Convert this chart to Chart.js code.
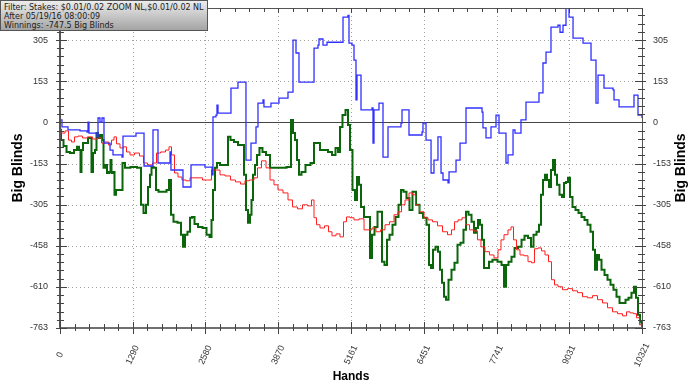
<!DOCTYPE html>
<html>
<head>
<meta charset="utf-8">
<title>Winnings graph</title>
<script src="https://cdn.jsdelivr.net/npm/chart.js@4.4.0/dist/chart.umd.min.js"></script>
<style>
    html, body { margin: 0; padding: 0; background: #fff; }
    #wrap { position: relative; width: 700px; height: 390px; }
    #filterBox {
        position: absolute; left: 0; top: 0;
        width: 208px; height: 31px; box-sizing: border-box;
        border: 1px solid #555;
        background: linear-gradient(#ececec, #a4a4a4);
        font: 8px "DejaVu Sans", sans-serif; color: #1c1c1c;
        line-height: 9px; padding: 2px 0 0 3px;
        white-space: nowrap; overflow: hidden;
    }
</style>
</head>
<body>
<div id="wrap">
    <canvas id="winningsChart" width="700" height="390"></canvas>
    <div id="filterBox">Filter: Stakes: $0.01/0.02 ZOOM NL,$0.01/0.02 NL<br>After 05/19/16 08:00:09<br>Winnings: -747.5 Big Blinds</div>
</div>
<script>
// Axis ticks
const xTicks = [0, 1290, 2580, 3870, 5161, 6451, 7741, 9031, 10321];
const yTicks = [-763, -610, -458, -305, -153, 0, 153, 305];
const yMax = 424;

// Showdown winnings (blue)
const showdownHands = [0,35,142,355,479,497,514,656,674,709,745,780,887,940,1100,1117,1330,1348,1472,1490,1632,1649,1720,1738,1933,1951,1968,2164,2181,2305,2323,2571,2696,2713,2766,2784,2802,3015,3032,3139,3156,3281,3298,3369,3387,3458,3476,3511,3600,3617,3724,3741,3866,3883,4026,4043,4114,4132,4167,4185,4221,4238,4487,4505,4575,4593,4646,4664,4735,5001,5019,5107,5125,5178,5214,5249,5267,5320,5338,5533,5551,5568,5639,5657,5710,5728,5799,5817,6030,6047,6065,6171,6189,6420,6437,6473,6491,6562,6580,6615,6632,6686,6703,6739,6757,6792,6881,6899,7005,7023,7094,7182,7200,7484,7501,7537,7555,7626,7643,7714,7732,7767,7785,7892,7909,7945,8016,8034,8069,8158,8175,8246,8264,8477,8494,8548,8565,8601,8619,8690,8707,8831,8867,8902,8920,8956,8973,9009,9027,9080,9098,9257,9275,9399,9417,9488,9505,9523,9541,9630,9647,9807,9825,9896,9914,10161,10179,10232,10250,10286,10321];
const showdownBB = [9,-17,-28,-32,-36,1,-40,-54,16,1,16,-77,-103,-121,-129,-51,-51,-40,-40,-162,-162,-28,-28,-151,-151,-110,-177,-177,-240,-240,-158,-166,-195,20,27,64,34,34,127,127,149,149,-140,-140,-77,-77,-17,71,83,57,57,71,71,90,90,112,112,305,305,257,257,149,149,275,286,309,309,286,297,297,390,397,294,286,231,83,175,175,46,53,-77,46,46,71,71,-129,-129,-17,-17,-3,46,46,-47,-36,-3,-3,-66,-66,-188,-188,-140,-140,-54,-54,-188,-214,-225,-184,-184,-140,-77,-77,53,38,-21,-21,-58,-58,-17,-17,27,27,-40,-40,-151,-121,-121,-28,-40,-40,9,9,75,75,109,109,220,220,260,260,353,360,334,334,360,360,427,427,390,390,312,312,294,294,231,231,71,71,175,175,127,120,83,83,57,57,101,101,27,27,16];

// Non-showdown winnings (red)
const nonShowdownHands = [0,53,124,177,230,284,355,443,532,621,709,763,833,887,940,975,1028,1100,1153,1206,1277,1365,1454,1507,1596,1685,1738,1827,1915,1951,2004,2057,2128,2199,2270,2341,2412,2483,2571,2660,2713,2802,2873,2979,3068,3156,3245,3316,3405,3476,3529,3618,3689,3760,3830,3901,4008,4079,4167,4256,4345,4434,4487,4522,4575,4646,4735,4788,4859,4930,5001,5054,5107,5178,5249,5356,5427,5498,5568,5639,5728,5799,5888,5959,6030,6083,6154,6224,6278,6331,6420,6491,6562,6650,6739,6828,6916,6969,7023,7094,7165,7218,7306,7377,7430,7501,7572,7661,7732,7803,7838,7909,7980,8016,8069,8122,8193,8264,8335,8388,8441,8512,8565,8636,8690,8743,8796,8867,8956,9044,9133,9222,9310,9399,9488,9576,9665,9754,9842,9931,10020,10073,10144,10197,10250,10303,10321];
const nonShowdownBB = [-28,-40,-32,-66,-73,-54,-51,-58,-54,-62,-58,-77,-73,-84,-66,-54,-80,-95,-91,-110,-121,-114,-125,-151,-158,-151,-114,-110,-103,-91,-121,-188,-203,-214,-217,-206,-206,-206,-214,-214,-177,-177,-195,-199,-214,-221,-229,-217,-214,-206,-169,-143,-169,-214,-232,-251,-262,-288,-314,-321,-306,-310,-288,-354,-380,-392,-384,-406,-421,-414,-425,-369,-351,-354,-362,-358,-399,-399,-392,-406,-399,-380,-369,-343,-332,-306,-288,-262,-269,-306,-332,-354,-362,-369,-384,-406,-417,-399,-369,-362,-354,-380,-399,-403,-436,-462,-480,-492,-503,-473,-436,-417,-399,-388,-436,-473,-492,-495,-517,-521,-469,-466,-477,-492,-517,-584,-603,-610,-621,-617,-625,-632,-647,-651,-643,-658,-670,-688,-703,-710,-718,-703,-707,-710,-725,-751,-763];

// Total winnings (green)
const totalHands = [0,35,89,142,213,284,319,355,372,390,426,479,514,550,567,603,638,656,692,727,763,780,816,851,887,904,922,958,975,1011,1064,1100,1117,1188,1312,1419,1454,1507,1543,1578,1614,1632,1685,1720,1773,1862,1915,1951,1986,2039,2128,2164,2199,2234,2287,2323,2359,2412,2483,2571,2625,2678,2696,2731,2766,2802,2873,2962,2997,3050,3121,3192,3245,3281,3316,3352,3387,3405,3440,3476,3511,3564,3618,3689,3760,3848,3955,4079,4114,4150,4185,4221,4256,4309,4398,4487,4522,4575,4646,4717,4788,4859,4912,4948,4983,5036,5090,5125,5160,5214,5249,5285,5320,5356,5427,5480,5515,5551,5604,5657,5692,5728,5781,5817,5870,5923,5976,6030,6065,6118,6171,6224,6278,6349,6402,6473,6526,6562,6597,6632,6686,6721,6757,6792,6828,6863,6916,6969,7023,7076,7129,7182,7218,7271,7324,7360,7395,7430,7466,7501,7537,7590,7626,7714,7803,7856,7892,7927,7980,8034,8087,8158,8211,8264,8335,8370,8424,8477,8512,8548,8583,8619,8654,8690,8725,8760,8796,8831,8885,8920,8956,8991,9027,9062,9115,9168,9222,9275,9328,9381,9434,9470,9505,9541,9576,9630,9683,9736,9789,9842,9896,9949,10002,10055,10108,10161,10197,10232,10268,10303,10321];
const totalBB = [-28,-66,-88,-110,-114,-103,-91,-103,-184,-103,-77,-77,-58,-58,-184,-114,-103,-40,-58,-47,-66,-169,-158,-188,-184,-140,-188,-184,-269,-251,-251,-251,-151,-169,-166,-169,-306,-336,-306,-240,-195,-166,-169,-251,-258,-258,-251,-214,-343,-369,-373,-417,-462,-417,-406,-354,-351,-377,-388,-392,-417,-425,-362,-251,-169,-151,-158,-158,-54,-66,-73,-84,-84,-195,-325,-373,-343,-288,-195,-158,-121,-95,-110,-121,-169,-169,-169,-166,9,-40,-66,-140,-195,-184,-158,-151,-77,-77,-103,-103,-110,-121,-95,-110,-17,27,46,-10,-103,-251,-288,-203,-232,-314,-351,-351,-503,-417,-388,-332,-332,-517,-529,-436,-417,-380,-351,-306,-251,-258,-281,-325,-258,-306,-336,-354,-380,-529,-540,-473,-462,-480,-547,-595,-647,-658,-584,-547,-521,-454,-447,-399,-332,-343,-369,-410,-392,-362,-380,-436,-540,-540,-517,-510,-517,-529,-610,-529,-517,-499,-466,-462,-436,-421,-429,-462,-417,-406,-380,-269,-214,-195,-214,-240,-177,-140,-195,-232,-269,-277,-225,-221,-206,-277,-314,-325,-336,-351,-362,-380,-406,-473,-547,-492,-510,-547,-566,-584,-603,-621,-647,-670,-670,-658,-651,-632,-610,-651,-714,-740,-747.5];

// Pair up hands and values for a linear x axis
function toPoints(hands, values) {
    return hands.map((h, i) => ({ x: h, y: values[i] }));
}

// Four minor ticks between each pair of major ticks
function minorTicks(ticks, limit) {
    const out = [];
    for (let i = 0; i < ticks.length - 1; i++) {
        const step = (ticks[i + 1] - ticks[i]) / 5;
        for (let k = 1; k < 5; k++) out.push(ticks[i] + step * k);
    }
    if (limit !== undefined) {
        const step = (ticks[ticks.length - 1] - ticks[ticks.length - 2]) / 5;
        for (let v = ticks[ticks.length - 1] + step; v < limit; v += step) out.push(v);
    }
    return out;
}

function line(ctx, x1, y1, x2, y2) {
    ctx.beginPath();
    ctx.moveTo(x1, y1);
    ctx.lineTo(x2, y2);
    ctx.stroke();
}

// Grid, axes, ticks and titles drawn around the chart area
const framePlugin = {
    id: 'frame',
    beforeDatasetsDraw(chart) {
        const { ctx, chartArea: a, scales: { x, y } } = chart;
        ctx.save();
        ctx.strokeStyle = '#a0a0a0';
        ctx.lineWidth = 1;
        ctx.setLineDash([1, 3]);
        xTicks.slice(1, -1).forEach(v => {
            const px = Math.round(x.getPixelForValue(v)) + 0.5;
            line(ctx, px, a.top, px, a.bottom);
        });
        yTicks.forEach(v => {
            if (v === 0 || v === yTicks[0]) return;
            const py = Math.round(y.getPixelForValue(v)) + 0.5;
            line(ctx, a.left, py, a.right, py);
        });
        ctx.setLineDash([]);
        ctx.strokeStyle = '#444';
        const zy = Math.round(y.getPixelForValue(0)) + 0.5;
        line(ctx, a.left, zy, a.right, zy);
        ctx.restore();
    },
    afterDatasetsDraw(chart) {
        const { ctx, chartArea: a, scales: { x, y } } = chart;
        ctx.save();

        // frame
        ctx.strokeStyle = '#555';
        ctx.lineWidth = 1;
        line(ctx, a.left, a.top + 0.5, a.right, a.top + 0.5);
        line(ctx, a.right + 0.5, a.top, a.right + 0.5, a.bottom);
        ctx.lineWidth = 2;
        line(ctx, a.left, a.top, a.left, a.bottom);
        ctx.strokeStyle = '#707070';
        ctx.lineWidth = 2;
        line(ctx, a.left - 1, a.bottom, a.right + 1, a.bottom);

        // y ticks on both sides
        ctx.strokeStyle = '#444';
        ctx.lineWidth = 1;
        yTicks.forEach(v => {
            const py = Math.round(y.getPixelForValue(v)) + 0.5;
            line(ctx, a.left - 4, py, a.left + 7, py);
            line(ctx, a.right - 7, py, a.right + 4, py);
        });
        minorTicks(yTicks, yMax).forEach(v => {
            const py = Math.round(y.getPixelForValue(v)) + 0.5;
            line(ctx, a.left - 3, py, a.left + 4, py);
            line(ctx, a.right - 4, py, a.right + 3, py);
        });

        // x ticks on bottom and top
        xTicks.forEach(v => {
            const px = Math.round(x.getPixelForValue(v)) + 0.5;
            line(ctx, px, a.bottom - 6, px, a.bottom + 6);
            line(ctx, px, a.top, px, a.top + 5);
        });
        minorTicks(xTicks).forEach(v => {
            const px = Math.round(x.getPixelForValue(v)) + 0.5;
            line(ctx, px, a.bottom - 4, px, a.bottom + 3);
            line(ctx, px, a.top, px, a.top + 4);
        });

        // tick labels
        ctx.fillStyle = '#333';
        ctx.font = '9px "Liberation Sans", Arial, sans-serif';
        ctx.textBaseline = 'middle';
        yTicks.forEach(v => {
            const py = y.getPixelForValue(v);
            ctx.textAlign = 'right';
            ctx.fillText(String(v), a.left - 12, py);
            ctx.textAlign = 'left';
            ctx.fillText(String(v), a.right + 11, py);
        });
        ctx.textAlign = 'center';
        xTicks.forEach(v => {
            ctx.save();
            ctx.translate(x.getPixelForValue(v), a.bottom + 27);
            ctx.rotate(-65 * Math.PI / 180);
            ctx.fillText(String(v), 0, 0);
            ctx.restore();
        });

        // axis titles
        ctx.fillStyle = '#000';
        ctx.font = 'bold 14px "Liberation Sans", Arial, sans-serif';
        const midY = (a.top + a.bottom) / 2;
        [18, 681].forEach(tx => {
            ctx.save();
            ctx.translate(tx, midY);
            ctx.rotate(-Math.PI / 2);
            ctx.fillText('Big Blinds', 0, 0);
            ctx.restore();
        });
        ctx.font = 'bold 12px "Liberation Sans", Arial, sans-serif';
        ctx.fillText('Hands', (a.left + a.right) / 2, 377);

        ctx.restore();
    }
};

const ctx = document.getElementById('winningsChart').getContext('2d');
new Chart(ctx, {
    type: 'line',
    data: {
        datasets: [{
            label: 'Showdown',
            data: toPoints(showdownHands, showdownBB),
            borderColor: '#3030ff',
            borderWidth: 1.3,
            stepped: true
        }, {
            label: 'Non-showdown',
            data: toPoints(nonShowdownHands, nonShowdownBB),
            borderColor: '#ff1e1e',
            borderWidth: 1,
            stepped: 'middle'
        }, {
            label: 'Winnings',
            data: toPoints(totalHands, totalBB),
            borderColor: '#0b650b',
            borderWidth: 2,
            stepped: 'middle'
        }]
    },
    options: {
        responsive: false,
        animation: false,
        layout: { padding: { left: 60, right: 58, top: 8, bottom: 62 } },
        elements: {
            point: { radius: 0 },
            line: { tension: 0, borderJoinStyle: 'miter' }
        },
        plugins: {
            legend: { display: false },
            tooltip: { enabled: false }
        },
        scales: {
            x: { type: 'linear', display: false, min: 0, max: xTicks[xTicks.length - 1] },
            y: { type: 'linear', display: false, min: yTicks[0], max: yMax }
        }
    },
    plugins: [framePlugin]
});
</script>
</body>
</html>
